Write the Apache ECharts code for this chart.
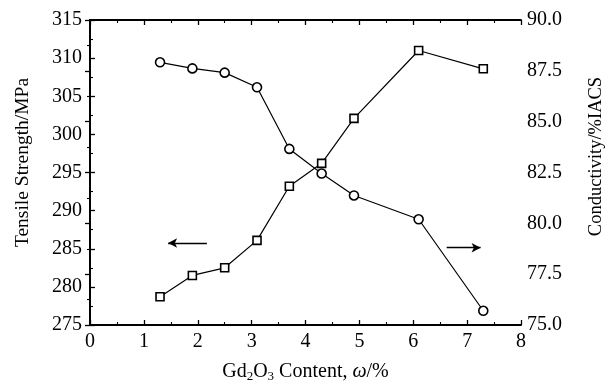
<!DOCTYPE html>
<html><head><meta charset="utf-8">
<script src="https://cdn.jsdelivr.net/npm/echarts@6/dist/echarts.min.js"></script>
<style>html,body{margin:0;padding:0;background:#fff}#c{width:609px;height:385px}</style>
</head><body><div id="c"></div>
<script>
const content = [1.3, 1.9, 2.5, 3.1, 3.7, 4.3, 4.9, 6.1, 7.3];
const tensileStrength = [278.7, 281.5, 282.5, 286.1, 293.2, 296.2, 302.1, 311.0, 308.6];
const conductivity = [87.92, 87.62, 87.41, 86.69, 83.66, 82.45, 81.37, 80.2, 75.7];
const leftArrow = [[2.17, 285.75], [1.45, 285.75]];
const rightArrow = [[6.62, 78.8], [7.25, 78.8]];

const font = 'Liberation Serif';
const chart = echarts.init(document.getElementById('c'), null, {renderer: 'canvas'});
const axisLine = {show: true, lineStyle: {color: '#000', width: 1.8}};
const tick = {inside: true, length: 5, lineStyle: {color: '#000', width: 1.3}};
const minor = {show: true, splitNumber: 2, length: 3, lineStyle: {color: '#000', width: 1.1}};
chart.setOption({
  animation: false,
  grid: {left: 90, right: 88, top: 20, bottom: 60, containLabel: false, outerBoundsMode: 'none'},
  xAxis: [{
    type: 'value', min: 0, max: 8, interval: 1, position: 'bottom',
    axisLine: axisLine, axisTick: tick, minorTick: minor,
    splitLine: {show: false},
    axisLabel: {color: '#000', fontFamily: font, fontSize: 20, margin: 7},
    name: 'Gd{sub|2}O{sub|3} Content, {it|ω}/%',
    nameLocation: 'middle', nameGap: 35,
    nameTextStyle: {color: '#000', fontFamily: font, fontSize: 20,
      rich: {sub: {fontFamily: font, fontSize: 13, color: '#000', verticalAlign: 'bottom', padding: [10, 0, 0, 0]},
             it: {fontFamily: font, fontSize: 20, fontStyle: 'italic', color: '#000'}}}
  }, {
    type: 'value', min: 0, max: 8, interval: 1, position: 'top',
    axisLine: axisLine, axisTick: tick, minorTick: minor,
    splitLine: {show: false}, axisLabel: {show: false}
  }],
  yAxis: [{
    type: 'value', min: 275, max: 315, interval: 5, position: 'left',
    axisLine: axisLine, axisTick: tick, minorTick: minor,
    splitLine: {show: false},
    axisLabel: {color: '#000', fontFamily: font, fontSize: 20, margin: 8},
    name: 'Tensile Strength/MPa', nameLocation: 'middle', nameGap: 57, nameRotate: 90,
    nameTextStyle: {color: '#000', fontFamily: font, fontSize: 19.5, padding: [0, 0, 0, 20]}
  }, {
    type: 'value', min: 75, max: 90, interval: 2.5, position: 'right',
    axisLine: axisLine, axisTick: tick, minorTick: minor,
    splitLine: {show: false},
    axisLabel: {color: '#000', fontFamily: font, fontSize: 20, margin: 6, formatter: v => v.toFixed(1)},
    name: 'Conductivity/%IACS', nameLocation: 'middle', nameGap: 66, nameRotate: 90,
    nameTextStyle: {color: '#000', fontFamily: font, fontSize: 18.5, padding: [0, 0, 0, 32]}
  }],
  series: [{
    type: 'line', xAxisIndex: 0, yAxisIndex: 0,
    data: content.map((x, i) => [x, tensileStrength[i]]),
    symbol: 'rect', symbolSize: 8,
    lineStyle: {color: '#000', width: 1.2},
    itemStyle: {color: '#fff', borderColor: '#000', borderWidth: 1.6},
    markLine: {
      silent: true, symbol: ['none', 'arrow'], symbolSize: [7, 9],
      lineStyle: {color: '#000', width: 1.3, type: 'solid'}, label: {show: false},
      data: [[{coord: leftArrow[0]}, {coord: leftArrow[1]}]]
    }
  }, {
    type: 'line', xAxisIndex: 0, yAxisIndex: 1,
    data: content.map((x, i) => [x, conductivity[i]]),
    symbol: 'circle', symbolSize: 9,
    lineStyle: {color: '#000', width: 1.2},
    itemStyle: {color: '#fff', borderColor: '#000', borderWidth: 1.6},
    markLine: {
      silent: true, symbol: ['none', 'arrow'], symbolSize: [7, 9],
      lineStyle: {color: '#000', width: 1.3, type: 'solid'}, label: {show: false},
      data: [[{coord: rightArrow[0]}, {coord: rightArrow[1]}]]
    }
  }]
});
</script></body></html>
